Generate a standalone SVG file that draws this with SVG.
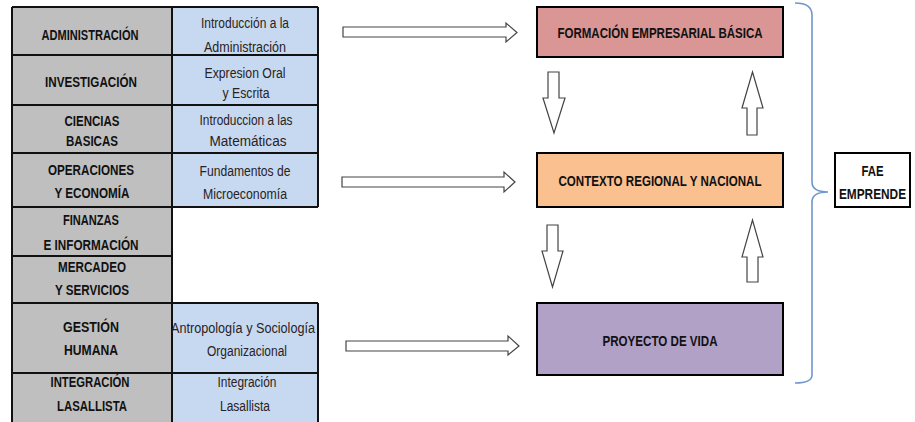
<svg xmlns="http://www.w3.org/2000/svg" width="915" height="422" viewBox="0 0 915 422">
<style>
.lc{fill:#bfbfbf;stroke:none}
.rc{fill:#c6d9f1;stroke:none}
.grid{stroke:#111;stroke-width:2;fill:none}
.lt{font-family:"Liberation Sans",Arial,sans-serif;font-weight:bold;font-size:14.5px;fill:#111;text-anchor:middle}
.rt{font-family:"Liberation Sans",Arial,sans-serif;font-size:15.5px;fill:#2a2222;text-anchor:middle}
.box{stroke:#000;stroke-width:2}
.bt{font-family:"Liberation Sans",Arial,sans-serif;font-weight:bold;font-size:15px;fill:#111;text-anchor:middle}
.arr{fill:#fff;stroke:#444;stroke-width:1.2}
.brace{fill:none;stroke:#6f97cc;stroke-width:1.6}
</style>
<rect width="915" height="422" fill="#fff"/>
<g id="table">
<rect class="lc" x="12" y="7" width="160" height="420"/>
<rect class="rc" x="172" y="7" width="146" height="200"/>
<rect class="rc" x="172" y="303" width="146" height="124"/>
<path class="grid" d="M12,7V425 M172,7V425 M318,7V207 M318,303V425 M12,7H318 M12,55H318 M12,105H318 M12,153H318 M12,207H318 M12,256H172 M12,303H318 M12,373H318"/>
</g>
<g id="row-administracion">
<text class="lt" x="90" y="40" textLength="97" lengthAdjust="spacingAndGlyphs">ADMINISTRACIÓN</text>
<text class="rt" x="245" y="28" textLength="88" lengthAdjust="spacingAndGlyphs">Introducción a la</text>
<text class="rt" x="245" y="52" textLength="82" lengthAdjust="spacingAndGlyphs">Administración</text>
</g>
<g id="row-investigacion">
<text class="lt" x="91" y="87" textLength="92" lengthAdjust="spacingAndGlyphs">INVESTIGACIÓN</text>
<text class="rt" x="245" y="78" textLength="81" lengthAdjust="spacingAndGlyphs">Expresion Oral</text>
<text class="rt" x="246" y="98" textLength="47" lengthAdjust="spacingAndGlyphs">y Escrita</text>
</g>
<g id="row-ciencias">
<text class="lt" x="92" y="126" textLength="55" lengthAdjust="spacingAndGlyphs">CIENCIAS</text>
<text class="lt" x="92" y="146" textLength="52" lengthAdjust="spacingAndGlyphs">BASICAS</text>
<text class="rt" x="246" y="125" textLength="93" lengthAdjust="spacingAndGlyphs">Introduccion a las</text>
<text class="rt" x="248" y="146" textLength="77" lengthAdjust="spacingAndGlyphs">Matemáticas</text>
</g>
<g id="row-operaciones">
<text class="lt" x="91" y="175" textLength="86" lengthAdjust="spacingAndGlyphs">OPERACIONES</text>
<text class="lt" x="92" y="198" textLength="75" lengthAdjust="spacingAndGlyphs">Y ECONOMÍA</text>
<text class="rt" x="245" y="176" textLength="91" lengthAdjust="spacingAndGlyphs">Fundamentos de</text>
<text class="rt" x="245" y="199" textLength="84" lengthAdjust="spacingAndGlyphs">Microeconomía</text>
</g>
<g id="row-finanzas">
<text class="lt" x="91" y="225" textLength="56" lengthAdjust="spacingAndGlyphs">FINANZAS</text>
<text class="lt" x="91" y="250" textLength="95" lengthAdjust="spacingAndGlyphs">E INFORMACIÓN</text>
</g>
<g id="row-mercadeo">
<text class="lt" x="92" y="272" textLength="68" lengthAdjust="spacingAndGlyphs">MERCADEO</text>
<text class="lt" x="92" y="295" textLength="74" lengthAdjust="spacingAndGlyphs">Y SERVICIOS</text>
</g>
<g id="row-gestion">
<text class="lt" x="91" y="332" textLength="56" lengthAdjust="spacingAndGlyphs">GESTIÓN</text>
<text class="lt" x="91" y="355" textLength="54" lengthAdjust="spacingAndGlyphs">HUMANA</text>
<text class="rt" x="243" y="333" textLength="144" lengthAdjust="spacingAndGlyphs">Antropología y Sociología</text>
<text class="rt" x="247" y="356" textLength="80" lengthAdjust="spacingAndGlyphs">Organizacional</text>
</g>
<g id="row-integracion">
<text class="lt" x="90" y="387" textLength="79" lengthAdjust="spacingAndGlyphs">INTEGRACIÓN</text>
<text class="lt" x="92" y="411" textLength="70" lengthAdjust="spacingAndGlyphs">LASALLISTA</text>
<text class="rt" x="247" y="387" textLength="59" lengthAdjust="spacingAndGlyphs">Integración</text>
<text class="rt" x="245" y="411" textLength="50" lengthAdjust="spacingAndGlyphs">Lasallista</text>
</g>
<g id="formacion">
<rect class="box" x="537" y="7" width="246" height="50" fill="#d99694"/>
<text class="bt" x="660" y="38" textLength="205" lengthAdjust="spacingAndGlyphs">FORMACIÓN EMPRESARIAL BÁSICA</text>
</g>
<g id="contexto">
<rect class="box" x="537" y="153" width="246" height="54" fill="#fac090"/>
<text class="bt" x="660" y="186" textLength="203" lengthAdjust="spacingAndGlyphs">CONTEXTO REGIONAL Y NACIONAL</text>
</g>
<g id="proyecto">
<rect class="box" x="537" y="303" width="246" height="72" fill="#b2a1c7"/>
<text class="bt" x="660" y="346" textLength="115" lengthAdjust="spacingAndGlyphs">PROYECTO DE VIDA</text>
</g>
<g id="fae">
<rect class="box" x="835" y="153" width="75" height="54" fill="#fff"/>
<text class="bt" transform="translate(872.5,176) scale(0.76,1)">FAE</text>
<text class="bt" transform="translate(872.5,199) scale(0.79,1)">EMPRENDE</text>
</g>
<g id="connectors">
<path class="arr" d="M343,27H506V23L517,32.5L506,42V37H343Z"/>
<path class="arr" d="M342,177H504V172L515,182L504,192V187H342Z"/>
<path class="arr" d="M346,341H508V336L519,346L508,355V351H346Z"/>
<path class="arr" d="M548,72H559V98H565L554,133L543,98H548Z"/>
<path class="arr" d="M547,225H558V251H563L552.5,287L542,251H547Z"/>
<path class="arr" d="M747,135V108H742L752.5,72L763,108H757V135Z"/>
<path class="arr" d="M747,282V257H742L752.5,220L763,257H758V282Z"/>
<path class="brace" d="M795,3Q812,3 812,15V182Q812,192 828,192Q812,192 812,202V375Q812,383 795,383"/>
</g>
</svg>
